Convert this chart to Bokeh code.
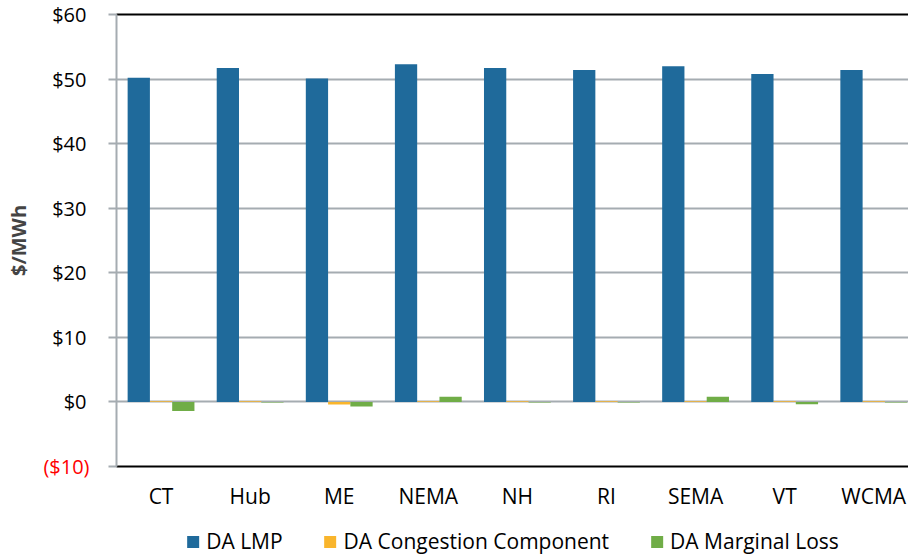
from bokeh.plotting import figure
from bokeh.layouts import column
from bokeh.models import (Range1d, Legend, LegendItem, LinearAxis,
                          ColumnDataSource, FixedTicker)
from bokeh.transform import dodge
from bokeh.embed import file_html
from bokeh.resources import INLINE

zones = ["CT", "Hub", "ME", "NEMA", "NH", "RI", "SEMA", "VT", "WCMA"]
da_lmp = [50.2, 51.7, 50.1, 52.3, 51.7, 51.4, 52.0, 50.8, 51.4]
da_congestion = [0.1, 0.1, -0.4, 0.1, 0.1, 0.1, 0.1, 0.1, 0.1]
da_marginal_loss = [-1.4, -0.1, -0.7, 0.8, -0.1, -0.1, 0.8, -0.35, -0.1]
series_names = ["DA LMP", "DA Congestion Component", "DA Marginal Loss"]
y_ticks = [-10, 0, 10, 20, 30, 40, 50, 60]
y_tick_labels = ["($10)", "$0", "$10", "$20", "$30", "$40", "$50", "$60"]

BLUE = "#1F6A9B"
ORANGE = "#F9B52C"
GREEN = "#70AD47"
GRID = "#A5ACB1"
FONT = "Open Sans"
COLORS = [BLUE, ORANGE, GREEN]

# category slots (slot centres); the original chart is cropped on the right,
# so the visible x window ends a little before the last slot's right edge
slot = [i + 0.5 for i in range(len(zones))]
source = ColumnDataSource(dict(slot=slot, zone=zones, lmp=da_lmp,
                               cong=da_congestion, loss=da_marginal_loss))

p = figure(x_range=Range1d(0, 8.89), y_range=Range1d(-10, 60),
           width=908, height=516, output_backend="svg", toolbar_location=None,
           min_border_left=116, min_border_top=14, min_border_right=0, min_border_bottom=50)
p.outline_line_color = None
p.background_fill_color = "white"

p.vbar(x=dodge("slot", -0.25), top="lmp", width=0.25,
       source=source, fill_color=BLUE, line_color=None)
p.vbar(x=dodge("slot", 0.0), top="cong", width=0.25,
       source=source, fill_color=ORANGE, line_color=None)
p.vbar(x=dodge("slot", 0.25), top="loss", width=0.25,
       source=source, fill_color=GREEN, line_color=None)

# grid
p.xgrid.visible = False
p.ygrid.ticker = FixedTicker(ticks=y_ticks)
p.ygrid.grid_line_color = GRID
p.ygrid.grid_line_width = 2

# inner (black) y axis
yax = p.yaxis[0]
yax.ticker = FixedTicker(ticks=y_ticks)
overrides = {t: l for t, l in zip(y_ticks, y_tick_labels)}
overrides[y_ticks[0]] = ""
yax.major_label_overrides = overrides
yax.axis_line_color = GRID
yax.axis_line_width = 2
yax.major_tick_line_color = GRID
yax.major_tick_line_width = 2
yax.major_tick_out = 8
yax.major_tick_in = 0
yax.minor_tick_line_color = None
yax.major_label_standoff = 22
yax.major_label_text_font = FONT
yax.major_label_text_font_size = "20px"
yax.major_label_text_color = "black"

# outer y axis carrying the red negative label and the axis title
yax2 = LinearAxis(ticker=FixedTicker(ticks=[y_ticks[0]]),
                  major_label_overrides={y_ticks[0]: y_tick_labels[0]})
yax2.axis_line_color = None
yax2.major_tick_line_color = None
yax2.minor_tick_line_color = None
yax2.major_label_standoff = -46
yax2.major_label_text_font = FONT
yax2.major_label_text_font_size = "20px"
yax2.major_label_text_color = "#FF0000"
yax2.axis_label = "$/MWh"
yax2.axis_label_text_font = FONT
yax2.axis_label_text_font_size = "20px"
yax2.axis_label_text_font_style = "bold"
yax2.axis_label_standoff = 8
p.add_layout(yax2, "left")

# bottom axis with zone names
xax = p.xaxis[0]
xax.ticker = FixedTicker(ticks=slot)
xax.major_label_overrides = {s: z for s, z in zip(slot, zones)}
xax.axis_line_color = "black"
xax.axis_line_width = 2
xax.major_tick_line_color = None
xax.minor_tick_line_color = None
xax.major_label_standoff = 9
xax.major_label_text_font = FONT
xax.major_label_text_font_size = "21px"
xax.major_label_text_color = "black"

# top border line (axis without ticks or labels)
top = LinearAxis(ticker=FixedTicker(ticks=[]))
top.axis_line_color = "black"
top.axis_line_width = 2
top.major_tick_line_color = None
top.minor_tick_line_color = None
top.major_label_standoff = 0
p.add_layout(top, "above")

# legend strip below the chart (swatch glyphs have zero height, only the legend shows them)
pl = figure(x_range=Range1d(0, 1), y_range=Range1d(0, 1), width=908, height=40,
            output_backend="svg", toolbar_location=None,
            min_border_left=116, min_border_right=0, min_border_top=10, min_border_bottom=0)
pl.xaxis.visible = False
pl.yaxis.visible = False
pl.grid.visible = False
pl.outline_line_color = None
items = []
for name, col in zip(series_names, COLORS):
    r = pl.vbar(x=[0.5], top=[0], width=0.1, fill_color=col, line_color=None)
    items.append(LegendItem(label=name, renderers=[r]))
legend = Legend(items=items, orientation="horizontal", location="center",
                glyph_width=15, glyph_height=15, label_standoff=6, spacing=40,
                padding=0, margin=0, border_line_color=None, background_fill_alpha=0,
                label_text_font=FONT, label_text_font_size="21px", label_text_color="black")
pl.add_layout(legend, "center")

layout = column(p, pl, spacing=0)
open("out.html", "w").write(file_html(layout, INLINE))
